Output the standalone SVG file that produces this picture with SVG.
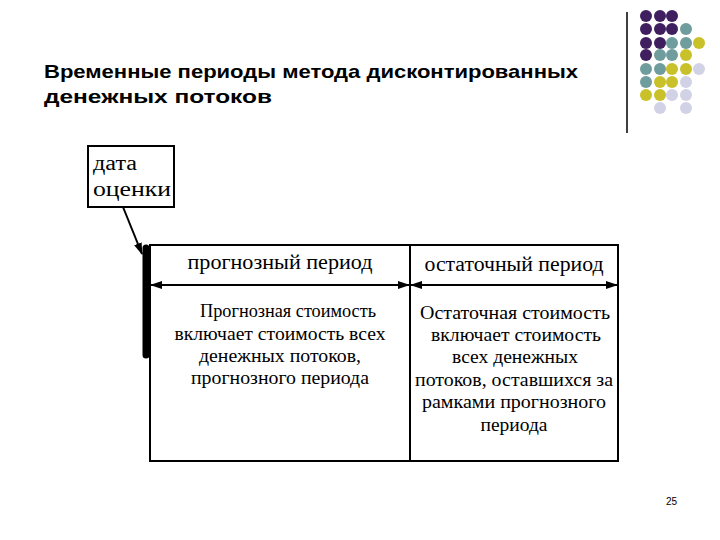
<svg xmlns="http://www.w3.org/2000/svg" width="720" height="540" viewBox="0 0 720 540">
<style>
.t{font-family:"Liberation Serif",serif;font-size:19px;fill:#000;text-anchor:middle}
.h{font-size:20px}
.b{fill:#fff;stroke:#000;stroke-width:2}
.p{fill:#3f1f5f}.q{fill:#6f9d9d}.y{fill:#c9c12a}.l{fill:#d2d2e6}
</style>
<defs>
<marker id="a" markerWidth="12" markerHeight="8" refX="11" refY="4" orient="auto-start-reverse" markerUnits="userSpaceOnUse"><path d="M0,0L12,4L0,8z" fill="#000"/></marker>
</defs>
<rect width="720" height="540" fill="#fff"/>
<g id="deco">
<line x1="627" y1="12" x2="627" y2="133" stroke="#000" stroke-width="1.5"/>
<circle class="p" cx="646" cy="16" r="6"/><circle class="p" cx="660" cy="16" r="6"/><circle class="p" cx="672" cy="16" r="6"/>
<circle class="p" cx="646" cy="29" r="6"/><circle class="p" cx="660" cy="29" r="6"/><circle class="p" cx="672" cy="29" r="6"/><circle class="q" cx="686" cy="29" r="6"/>
<circle class="p" cx="646" cy="43" r="6"/><circle class="p" cx="660" cy="43" r="6"/><circle class="q" cx="672" cy="43" r="6"/><circle class="q" cx="686" cy="43" r="6"/><circle class="y" cx="699" cy="43" r="6"/>
<circle class="p" cx="646" cy="55" r="6"/><circle class="q" cx="660" cy="55" r="6"/><circle class="q" cx="672" cy="55" r="6"/><circle class="y" cx="686" cy="55" r="6"/>
<circle class="q" cx="646" cy="69" r="6"/><circle class="q" cx="660" cy="69" r="6"/><circle class="y" cx="672" cy="69" r="6"/><circle class="y" cx="686" cy="69" r="6"/><circle class="l" cx="699" cy="69" r="6"/>
<circle class="q" cx="646" cy="82" r="6"/><circle class="y" cx="660" cy="82" r="6"/><circle class="y" cx="672" cy="82" r="6"/><circle class="l" cx="686" cy="82" r="6"/>
<circle class="y" cx="646" cy="95" r="6"/><circle class="y" cx="660" cy="95" r="6"/><circle class="l" cx="672" cy="95" r="6"/><circle class="l" cx="686" cy="95" r="6"/>
<circle class="l" cx="660" cy="108" r="6"/><circle class="l" cx="686" cy="108" r="6"/>
</g>
<g id="title" font-family="Liberation Sans,Arial,sans-serif" font-size="19" font-weight="bold" fill="#000">
<text x="44" y="78" textLength="534" lengthAdjust="spacingAndGlyphs">Временные периоды метода дисконтированных</text>
<text x="44" y="103" textLength="228" lengthAdjust="spacingAndGlyphs">денежных потоков</text>
</g>
<g id="date">
<rect class="b" x="88" y="146" width="86" height="61"/>
<text x="93" y="170" font-family="Liberation Serif,serif" font-size="20" textLength="44" lengthAdjust="spacingAndGlyphs">дата</text>
<text x="93" y="196" font-family="Liberation Serif,serif" font-size="20" textLength="78" lengthAdjust="spacingAndGlyphs">оценки</text>
</g>
<g id="forecast">
<rect class="b" x="150" y="245" width="260" height="216"/>
<text class="t h" x="280" y="269" textLength="185" lengthAdjust="spacingAndGlyphs">прогнозный период</text>
<text class="t" x="288" y="317" textLength="176" lengthAdjust="spacingAndGlyphs">Прогнозная стоимость</text>
<text class="t" x="280" y="340" textLength="211" lengthAdjust="spacingAndGlyphs">включает стоимость всех</text>
<text class="t" x="280" y="362" textLength="162" lengthAdjust="spacingAndGlyphs">денежных потоков,</text>
<text class="t" x="280" y="384" textLength="178" lengthAdjust="spacingAndGlyphs">прогнозного периода</text>
</g>
<g id="terminal">
<rect class="b" x="410" y="245" width="208" height="216"/>
<text class="t h" x="514" y="271" textLength="179" lengthAdjust="spacingAndGlyphs">остаточный период</text>
<text class="t" x="515" y="319" textLength="190" lengthAdjust="spacingAndGlyphs">Остаточная стоимость</text>
<text class="t" x="516" y="341" textLength="170" lengthAdjust="spacingAndGlyphs">включает стоимость</text>
<text class="t" x="515" y="363" textLength="126" lengthAdjust="spacingAndGlyphs">всех денежных</text>
<text class="t" x="514" y="386" textLength="198" lengthAdjust="spacingAndGlyphs">потоков, оставшихся за</text>
<text class="t" x="514" y="408" textLength="184" lengthAdjust="spacingAndGlyphs">рамками прогнозного</text>
<text class="t" x="514" y="431" textLength="67" lengthAdjust="spacingAndGlyphs">периода</text>
</g>
<g id="connectors" stroke="#000" stroke-width="2">
<line x1="146" y1="248" x2="146" y2="355" stroke-width="7" stroke-linecap="round"/>
<line x1="123" y1="207" x2="142" y2="254" marker-end="url(#a)"/>
<line x1="151" y1="285" x2="409" y2="285" marker-start="url(#a)" marker-end="url(#a)"/>
<line x1="411" y1="285" x2="617" y2="285" marker-start="url(#a)" marker-end="url(#a)"/>
</g>
<text x="677" y="505" font-family="Liberation Sans,Arial,sans-serif" font-size="10" text-anchor="end">25</text>
</svg>
